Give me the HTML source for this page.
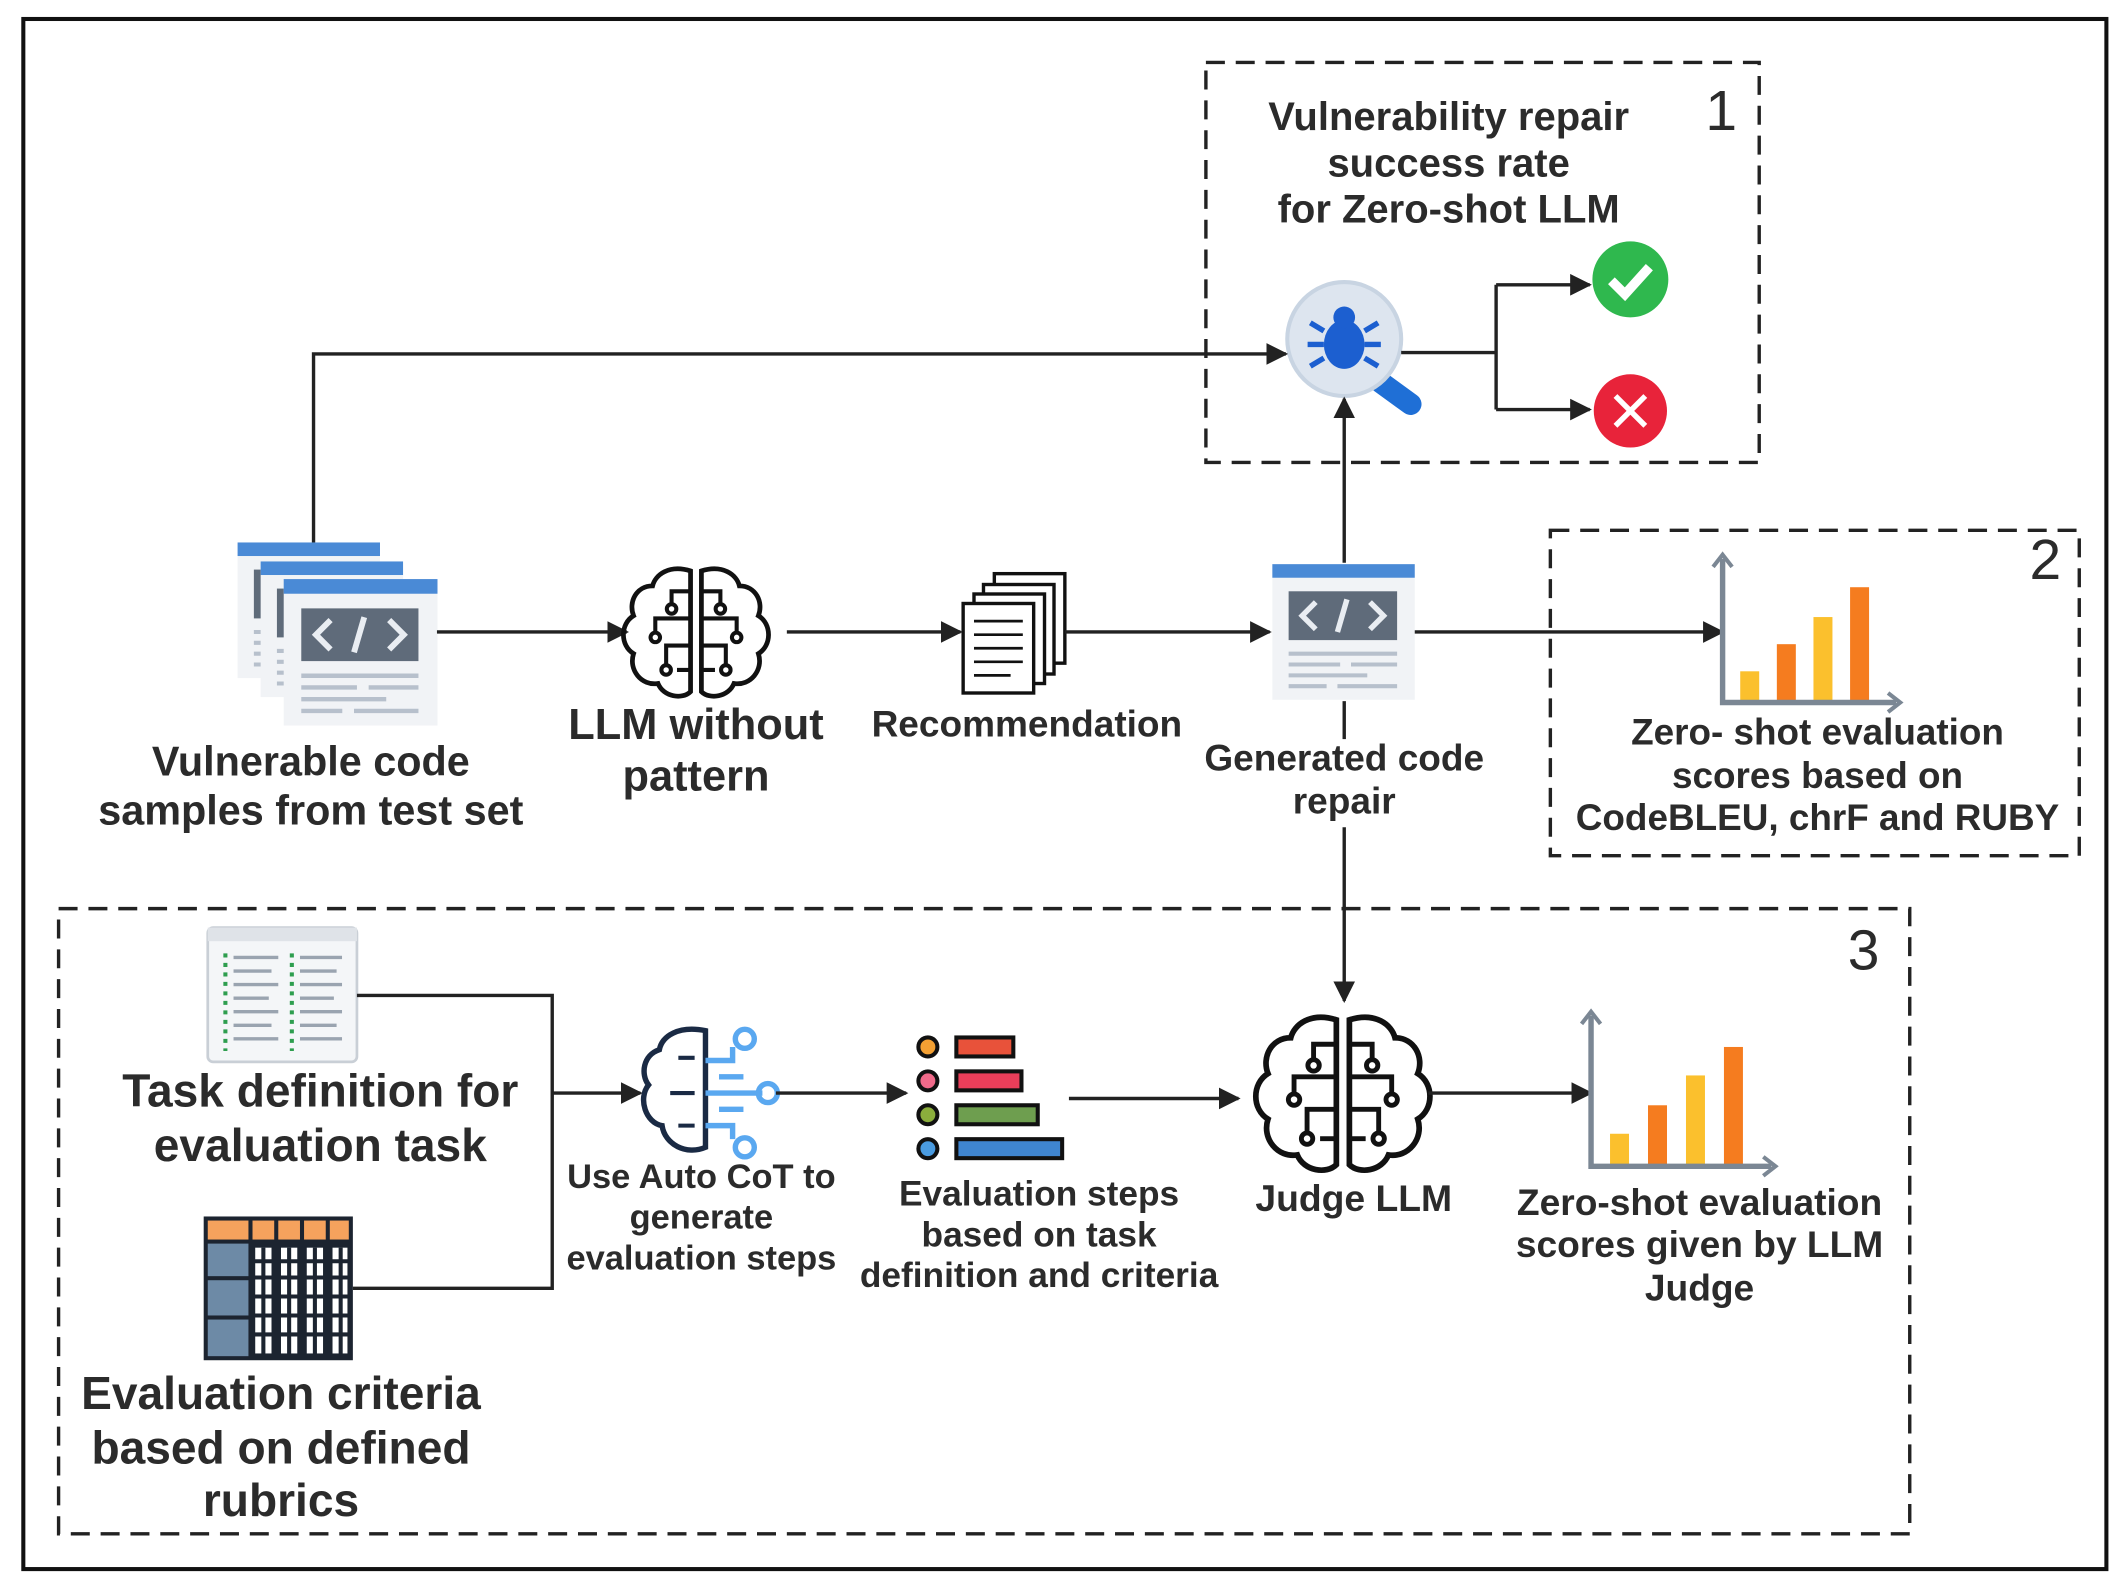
<!DOCTYPE html>
<html><head><meta charset="utf-8"><style>
html,body{margin:0;padding:0;background:#fff;}
svg{display:block;}
text{font-family:"Liberation Sans",Arial,sans-serif;font-weight:bold;fill:#2b2b2b;text-anchor:middle;}
</style></head><body>
<svg width="2127" height="1584" viewBox="0 0 1568 1168" xmlns="http://www.w3.org/2000/svg">
<defs>
<marker id="arB" viewBox="0 0 10 10" refX="9" refY="5" markerWidth="16" markerHeight="16" orient="auto" markerUnits="userSpaceOnUse">
<path d="M0,0 L10,5 L0,10 z" fill="#222"/></marker>
<g id="brain">
<path d="M-4,-45 C-20,-50 -30,-42 -32,-34 C-44,-34 -50,-22 -46,-12 C-56,-6 -56,10 -46,16 C-50,28 -40,40 -28,38 C-24,48 -10,50 -4,44 Z" fill="none" stroke="#111" stroke-width="3.5"/>
<path d="M4,-45 C20,-50 30,-42 32,-34 C44,-34 50,-22 46,-12 C56,-6 56,10 46,16 C50,28 40,40 28,38 C24,48 10,50 4,44 Z" fill="none" stroke="#111" stroke-width="3.5"/>
<g fill="none" stroke="#111" stroke-width="3">
<path d="M-4,-30 H-18 V-20 M-4,-10 H-30 V0 M-4,10 H-22 V24 M-4,28 H-14"/>
<path d="M4,-30 H18 V-20 M4,-10 H30 V0 M4,10 H22 V24 M4,28 H14"/>
<circle cx="-18" cy="-17" r="3.5"/><circle cx="-30" cy="4" r="3.5"/><circle cx="-22" cy="28" r="3.5"/>
<circle cx="18" cy="-17" r="3.5"/><circle cx="30" cy="4" r="3.5"/><circle cx="22" cy="28" r="3.5"/>
</g></g>
<g id="codewin">
<rect x="0" y="0" width="105" height="100" fill="#f1f3f6"/>
<rect x="0" y="0" width="105" height="10" fill="#4a8ad6"/>
<rect x="12" y="20" width="80" height="36" fill="#5f6b7a"/>
<path d="M32,28 L22,38 L32,48 M72,28 L82,38 L72,48 M55,26 L48,50" stroke="#e9edf2" stroke-width="4" fill="none"/>
<g stroke="#b7c0cc" stroke-width="3"><path d="M12,66 H92 M12,74 H50 M58,74 H92 M12,82 H70 M12,90 H40 M48,90 H92"/></g>
</g>
</defs>

<rect x="17" y="14" width="1536" height="1143" fill="none" stroke="#111" stroke-width="3"/>

<rect x="889" y="46" width="408" height="295" fill="none" stroke="#222" stroke-width="2.5" stroke-dasharray="14,8"/>
<text x="1269" y="96" style="font-weight:normal;font-size:42px">1</text>
<text x="1068" y="96" font-size="29.5">Vulnerability repair</text>
<text x="1068" y="130" font-size="29.5">success rate</text>
<text x="1068" y="164" font-size="29.5">for Zero-shot LLM</text>
<line x1="1018" y1="282" x2="1040" y2="298" stroke="#1f6fd6" stroke-width="16" stroke-linecap="round"/>
<circle cx="991" cy="250" r="42" fill="#dde5ef" stroke="#c8d4e2" stroke-width="3"/>
<g fill="#1c5fd0">
<ellipse cx="991" cy="254" rx="15" ry="18"/><circle cx="991" cy="234" r="8"/>
<path d="M976,244 L966,238 M976,254 L964,254 M976,264 L966,270 M1006,244 L1016,238 M1006,254 L1018,254 M1006,264 L1016,270" stroke="#1c5fd0" stroke-width="4"/>
</g>
<path d="M1033,260 H1103 M1103,210 V302" stroke="#222" stroke-width="2.5" fill="none"/>
<line x1="1103" y1="210" x2="1172" y2="210" stroke="#222" stroke-width="2.5" marker-end="url(#arB)"/>
<line x1="1103" y1="302" x2="1172" y2="302" stroke="#222" stroke-width="2.5" marker-end="url(#arB)"/>
<circle cx="1202" cy="206" r="28" fill="#2fb84e"/>
<path d="M1188,207 L1198,217 L1216,197" stroke="#fff" stroke-width="7" fill="none"/>
<circle cx="1202" cy="303" r="27" fill="#e8233a"/>
<path d="M1191,292 L1213,314 M1213,292 L1191,314" stroke="#fff" stroke-width="4"/>

<path d="M231,400 V261 H948" stroke="#222" stroke-width="2.5" fill="none" marker-end="url(#arB)"/>
<line x1="991" y1="415" x2="991" y2="294" stroke="#222" stroke-width="2.5" marker-end="url(#arB)"/>

<use href="#codewin" x="175" y="400"/>
<use href="#codewin" x="192" y="414"/>
<g transform="translate(209,427) scale(1.08)"><use href="#codewin"/></g>
<text x="229" y="572" font-size="30.5">Vulnerable code</text>
<text x="229" y="608" font-size="30.5">samples from test set</text>

<line x1="322" y1="466" x2="462" y2="466" stroke="#222" stroke-width="2.5" marker-end="url(#arB)"/>
<g transform="translate(513,466)"><use href="#brain"/></g>
<text x="513" y="545" font-size="32">LLM without</text>
<text x="513" y="583" font-size="32">pattern</text>

<line x1="580" y1="466" x2="708" y2="466" stroke="#222" stroke-width="2.5" marker-end="url(#arB)"/>
<g fill="#fff" stroke="#111" stroke-width="2.5">
<rect x="733" y="423" width="52" height="66"/><rect x="725" y="431" width="52" height="66"/><rect x="718" y="438" width="52" height="66"/><rect x="710" y="445" width="52" height="66"/>
<path d="M718,458 H754 M718,468 H754 M718,478 H754 M718,488 H754 M718,498 H745" stroke-width="2"/>
</g>
<text x="757" y="543" font-size="27.3">Recommendation</text>

<line x1="785" y1="466" x2="936" y2="466" stroke="#222" stroke-width="2.5" marker-end="url(#arB)"/>
<use href="#codewin" x="938" y="416"/>
<text x="991" y="568" font-size="27.3">Generated code</text>
<text x="991" y="600" font-size="27.3">repair</text>
<line x1="1043" y1="466" x2="1270" y2="466" stroke="#222" stroke-width="2.5" marker-end="url(#arB)"/>
<line x1="991" y1="517" x2="991" y2="545" stroke="#222" stroke-width="2.5"/>
<line x1="991" y1="610" x2="991" y2="738" stroke="#222" stroke-width="2.5" marker-end="url(#arB)"/>

<rect x="1143" y="391" width="390" height="240" fill="none" stroke="#222" stroke-width="2.5" stroke-dasharray="14,8"/>
<text x="1508" y="427" style="font-weight:normal;font-size:42px">2</text>
<g>
<rect x="1283" y="495" width="14" height="23" fill="#fbc02d"/><rect x="1310" y="475" width="14" height="43" fill="#f57c1f"/>
<rect x="1337" y="455" width="14" height="63" fill="#fbc02d"/><rect x="1364" y="433" width="14" height="85" fill="#f57c1f"/>
<path d="M1270,412 V518 H1398" stroke="#7b8794" stroke-width="4" fill="none"/>
<path d="M1263,418 L1270,409 L1277,418 M1392,511 L1401,518 L1392,525" stroke="#7b8794" stroke-width="3" fill="none"/>
</g>
<text x="1340" y="549" font-size="27.2">Zero- shot evaluation</text>
<text x="1340" y="581" font-size="27.2">scores based on</text>
<text x="1340" y="612" font-size="27.2">CodeBLEU, chrF and RUBY</text>

<rect x="43" y="670" width="1365" height="461" fill="none" stroke="#222" stroke-width="2.5" stroke-dasharray="14,8"/>
<text x="1374" y="715" style="font-weight:normal;font-size:42px">3</text>

<rect x="153" y="684" width="110" height="99" rx="4" fill="#f4f6f8" stroke="#c9cfd6" stroke-width="2"/>
<rect x="153" y="684" width="110" height="10" fill="#dfe3e8"/>
<g stroke="#2e9e4f" stroke-width="3" stroke-dasharray="3,4"><path d="M166,703 V775 M215,703 V775"/></g>
<g stroke="#9aa4b0" stroke-width="2.5"><path d="M172,706 H205 M172,716 H200 M172,726 H205 M172,736 H198 M172,746 H205 M172,756 H200 M172,766 H205 M221,706 H252 M221,716 H248 M221,726 H252 M221,736 H246 M221,746 H252 M221,756 H248 M221,766 H252"/></g>
<text x="236" y="816" font-size="34">Task definition for</text>
<text x="236" y="856" font-size="34">evaluation task</text>

<rect x="150" y="897" width="110" height="106" fill="#1c2430"/>
<rect x="153" y="900" width="30" height="14" fill="#f5a25d"/>
<g fill="#f5a25d"><rect x="186" y="900" width="16" height="14"/><rect x="205" y="900" width="16" height="14"/><rect x="224" y="900" width="16" height="14"/><rect x="243" y="900" width="14" height="14"/></g>
<g fill="#6d8aa6"><rect x="153" y="917" width="30" height="24"/><rect x="153" y="944" width="30" height="26"/><rect x="153" y="973" width="30" height="27"/></g>
<g fill="#fff"><rect x="188" y="920" width="12" height="78"/><rect x="207" y="920" width="12" height="78"/><rect x="226" y="920" width="12" height="78"/><rect x="245" y="920" width="11" height="78"/></g>
<g stroke="#1c2430" stroke-width="3"><path d="M186,930 H258 M186,942 H258 M186,956 H258 M186,970 H258 M186,984 H258 M194,920 V998 M213,920 V998 M232,920 V998 M251,920 V998"/></g>
<text x="207" y="1039" font-size="34">Evaluation criteria</text>
<text x="207" y="1079" font-size="34">based on defined</text>
<text x="207" y="1118" font-size="34">rubrics</text>

<path d="M263,734 H407 V950 H260" stroke="#222" stroke-width="2.5" fill="none"/>
<line x1="407" y1="806" x2="472" y2="806" stroke="#222" stroke-width="2.5" marker-end="url(#arB)"/>

<path d="M520,760 C500,756 488,764 486,774 C474,778 472,792 478,800 C470,810 476,828 488,830 C490,844 506,852 520,846 Z" fill="none" stroke="#1a2a44" stroke-width="4"/>
<path d="M500,780 H512 M494,806 H512 M500,830 H512" stroke="#1a2a44" stroke-width="3"/>
<g stroke="#5aa8f0" stroke-width="4" fill="none">
<path d="M520,782 H540 V772 M520,806 H562 M520,830 H540 V840 M530,794 H548 M530,818 H548"/>
<circle cx="549" cy="766" r="7"/><circle cx="566" cy="806" r="7"/><circle cx="549" cy="846" r="7"/>
</g>
<text x="517" y="876" font-size="25.4">Use Auto CoT to</text>
<text x="517" y="906" font-size="25.4">generate</text>
<text x="517" y="936" font-size="25.4">evaluation steps</text>

<line x1="572" y1="806" x2="668" y2="806" stroke="#222" stroke-width="2.5" marker-end="url(#arB)"/>
<g stroke="#111" stroke-width="3">
<circle cx="684" cy="772" r="7" fill="#f3a033"/><circle cx="684" cy="797" r="7" fill="#f06a8a"/>
<circle cx="684" cy="822" r="7" fill="#8bae3c"/><circle cx="684" cy="847" r="7" fill="#4a9be0"/>
<rect x="705" y="765" width="42" height="14" fill="#e8523a"/><rect x="705" y="790" width="48" height="14" fill="#ea3e5a"/>
<rect x="705" y="815" width="60" height="14" fill="#6e9e4f"/><rect x="705" y="840" width="78" height="14" fill="#3f85d0"/>
</g>
<text x="766" y="889" font-size="26">Evaluation steps</text>
<text x="766" y="919" font-size="26">based on task</text>
<text x="766" y="949" font-size="26">definition and criteria</text>

<line x1="788" y1="810" x2="913" y2="810" stroke="#222" stroke-width="2.5" marker-end="url(#arB)"/>
<g transform="translate(990,806) scale(1.2)"><use href="#brain"/></g>
<text x="998" y="893" font-size="27.5">Judge LLM</text>
<line x1="1053" y1="806" x2="1173" y2="806" stroke="#222" stroke-width="2.5" marker-end="url(#arB)"/>

<g>
<rect x="1187" y="836" width="14" height="24" fill="#fbc02d"/><rect x="1215" y="815" width="14" height="45" fill="#f57c1f"/>
<rect x="1243" y="793" width="14" height="67" fill="#fbc02d"/><rect x="1271" y="772" width="14" height="88" fill="#f57c1f"/>
<path d="M1173,749 V860 H1306" stroke="#7b8794" stroke-width="4" fill="none"/>
<path d="M1166,755 L1173,746 L1180,755 M1300,853 L1309,860 L1300,867" stroke="#7b8794" stroke-width="3" fill="none"/>
</g>
<text x="1253" y="896" font-size="27.4">Zero-shot evaluation</text>
<text x="1253" y="927" font-size="27.4">scores given by LLM</text>
<text x="1253" y="959" font-size="27.4">Judge</text>
</svg>
</body></html>
